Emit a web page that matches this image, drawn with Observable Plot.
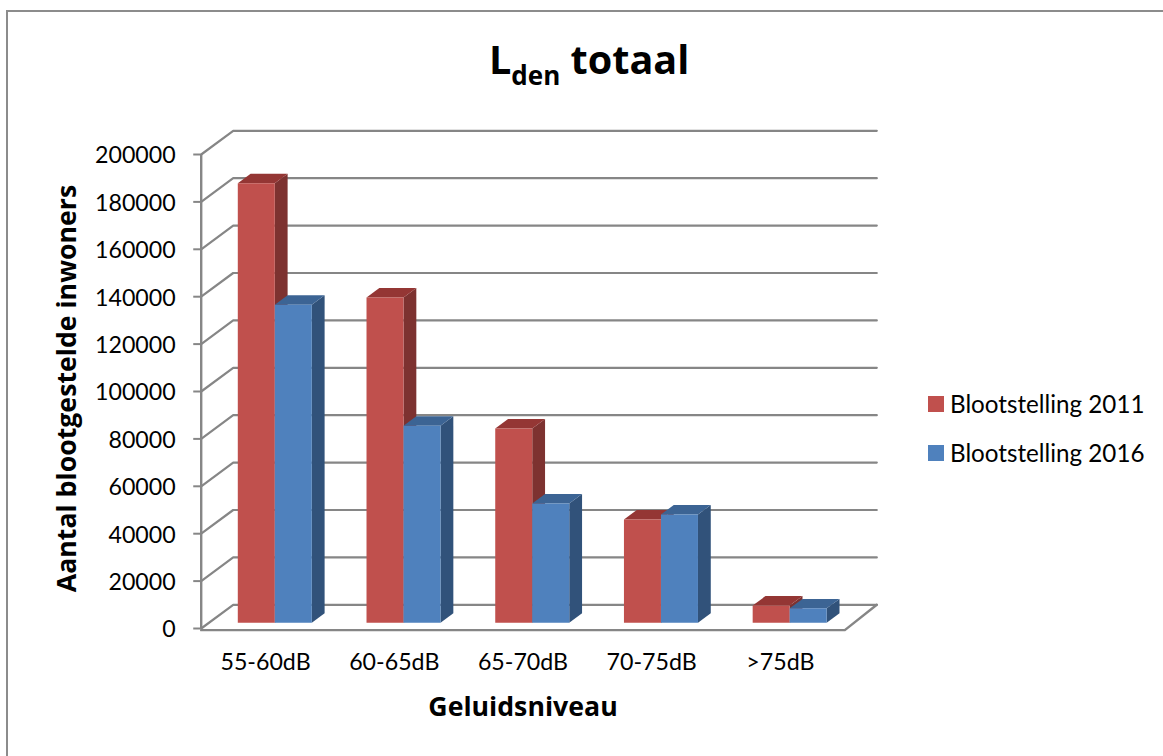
<!DOCTYPE html>
<html>
<head>
<meta charset="utf-8">
<script src="https://cdn.jsdelivr.net/npm/d3@7"></script>
<script src="https://cdn.jsdelivr.net/npm/@observablehq/plot@0.6"></script>
<style>
  html, body { margin: 0; padding: 0; background: #fff; overflow: hidden; }
  body { width: 1163px; height: 756px; position: relative; font-family: Lato, "Noto Sans", sans-serif; }
  #frame { position: absolute; left: 6px; top: 10px; right: -10px; bottom: -10px; border: 2px solid #8c8c8c; }
  #title { position: absolute; left: 489px; top: 35px; margin: 0; font-family: "Open Sans", Lato, sans-serif; font-size: 39.6px; line-height: 48px; font-weight: 700; color: #000; white-space: nowrap; }
  #title sub { font-size: 26px; line-height: 0; vertical-align: -11px; }
  #legend { position: absolute; left: 928px; top: 379px; font-size: 24.2px; color: #000; }
  #legend div { display: flex; align-items: center; height: 49px; white-space: nowrap; }
  #legend i { display: inline-block; width: 16px; height: 16px; margin-right: 6px; }
  svg { position: absolute; left: 0; top: 0; background: transparent !important; }
</style>
</head>
<body>
<div id="frame"></div>
<h1 id="title">L<sub>den</sub> totaal</h1>
<div id="legend"></div>
<script>
const categories = ["55-60dB", "60-65dB", "65-70dB", "70-75dB", ">75dB"];
const exposure2011 = [185500, 137300, 82000, 43600, 7300];
const exposure2016 = [134200, 83200, 50300, 45700, 6100];
const yTicks = [0, 20000, 40000, 60000, 80000, 100000, 120000, 140000, 160000, 180000, 200000];
const seriesNames = ["Blootstelling 2011", "Blootstelling 2016"];
const frontColors = ["#C0504D", "#4F81BD"];
const topColors = ["#943634", "#3C6494"];
const sideColors = ["#7D3230", "#31527A"];

// Oblique projection, expressed in data units of the two scales.
const wallDx = 0.2486, wallDy = 10000;       // depth of the floor / back wall
const barDx = 0.0995, barDy = 4000;          // depth of a bar
const barBase = 2400, barWidth = 0.2875, barStart = 0.2843;
const floorDrop = -700;
const tickLength = 0.058;
const grey = "#868686";

const gridLines = yTicks.map(v => [
  {x: 0, y: v, v}, {x: wallDx, y: v + wallDy, v}, {x: categories.length + wallDx, y: v + wallDy, v}
]).flat();
const floorLine = [
  {x: 0, y: floorDrop}, {x: categories.length, y: floorDrop}, {x: categories.length + wallDx, y: wallDy}
];

function barMarks(values, s) {
  const front = [], top = [], side = [];
  values.forEach((v, i) => {
    const l = i + barStart + s * barWidth, r = l + barWidth, t = barBase + v;
    front.push({i, x: l, y: barBase}, {i, x: r, y: barBase}, {i, x: r, y: t}, {i, x: l, y: t});
    top.push({i, x: l, y: t}, {i, x: r, y: t}, {i, x: r + barDx, y: t + barDy}, {i, x: l + barDx, y: t + barDy});
    side.push({i, x: r, y: barBase}, {i, x: r + barDx, y: barBase + barDy}, {i, x: r + barDx, y: t + barDy}, {i, x: r, y: t});
  });
  const face = (data, fill) => Plot.line(data, {x: "x", y: "y", z: "i", fill, stroke: "none", curve: "linear"});
  return [face(side, sideColors[s]), face(top, topColors[s]), face(front, frontColors[s])];
}

const chart = Plot.plot({
  width: 1163,
  height: 756,
  marginLeft: 200.7,
  marginRight: 318.7,
  marginTop: 154,
  marginBottom: 128,
  x: {domain: [0, categories.length], axis: null},
  y: {domain: [0, 200000], axis: null},
  style: {fontFamily: "Lato, 'Noto Sans', sans-serif", background: "transparent", color: "#000", overflow: "visible"},
  marks: [
    Plot.line(gridLines, {x: "x", y: "y", z: "v", stroke: grey, strokeWidth: 2.2, curve: "linear"}),
    Plot.ruleX([0], {y1: 0, y2: 200000, stroke: grey, strokeWidth: 2.4}),
    Plot.ruleY(yTicks, {x1: -tickLength, x2: 0, stroke: grey, strokeWidth: 2}),
    Plot.line(floorLine, {x: "x", y: "y", stroke: grey, strokeWidth: 2.4, curve: "linear"}),
    ...barMarks(exposure2011, 0),
    ...barMarks(exposure2016, 1),
    Plot.axisY({
      ticks: yTicks, tickSize: 0, tickPadding: 25.5, dy: 1.5, tickFormat: d3.format("d"),
      fill: "#000", fontSize: 23.2, label: null
    }),
    Plot.axisX({
      ticks: categories.map((_, i) => i + 0.5), tickFormat: d => categories[d - 0.5],
      tickSize: 0, tickPadding: 25, fontSize: 23.2, fill: "#000", label: null
    }),
    Plot.text(["Aantal blootgestelde inwoners"], {
      frameAnchor: "left", textAnchor: "middle", rotate: -90, dx: -134, dy: -3, fontFamily: "Open Sans", fontSize: 26.7, fontWeight: 700, fill: "#000"
    }),
    Plot.text(["Geluidsniveau"], {
      x: [categories.length / 2], y: [0], dy: 79, fontFamily: "Open Sans", fontSize: 26.7, fontWeight: 700, fill: "#000"
    })
  ]
});
document.body.appendChild(chart);

const legend = document.getElementById("legend");
seriesNames.forEach((name, s) => {
  const row = document.createElement("div");
  const sw = document.createElement("i");
  sw.style.background = frontColors[s];
  row.append(sw, document.createTextNode(name));
  legend.append(row);
});
</script>
</body>
</html>
